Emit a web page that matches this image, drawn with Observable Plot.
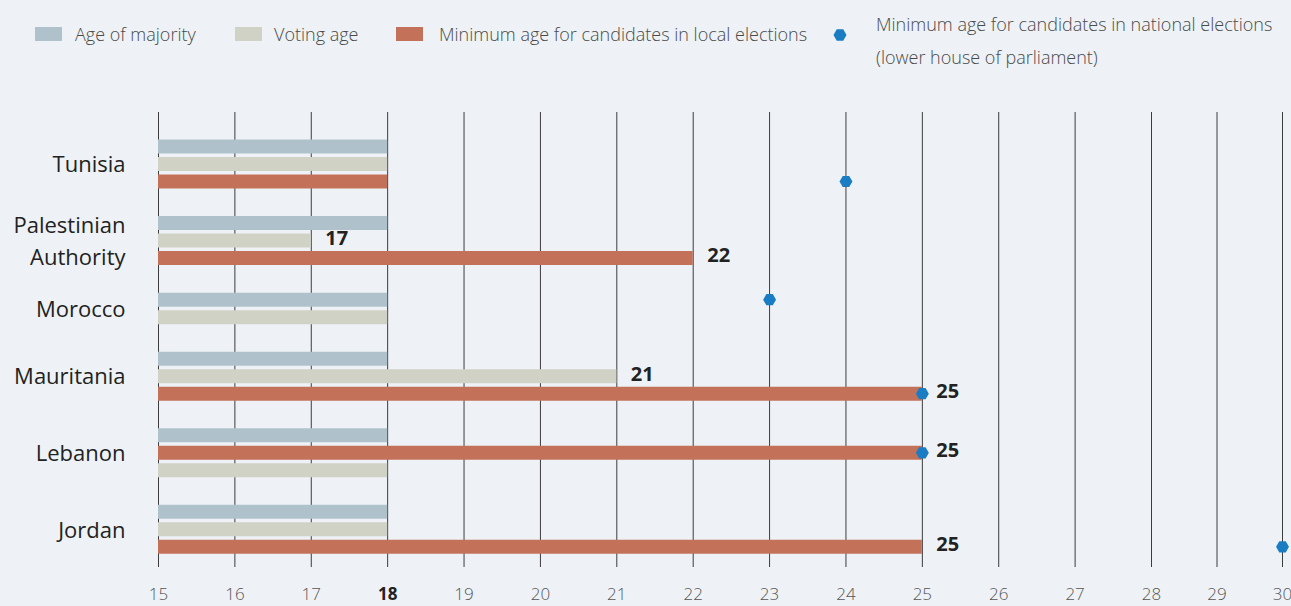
<!DOCTYPE html>
<html>
<head>
<meta charset="utf-8">
<script src="https://cdn.jsdelivr.net/npm/d3@7"></script>
<script src="https://cdn.jsdelivr.net/npm/@observablehq/plot@0.6"></script>
<style>
  html, body { margin: 0; padding: 0; background: #eef2f6; }
  #wrap { position: relative; width: 1291px; height: 606px; font-family: "Open Sans", sans-serif; overflow: hidden; }
  #wrap svg { position: absolute; left: 0; top: 0; }
  .lg { position: absolute; font-size: 18px; color: #4a4a4a; font-weight: 300; white-space: nowrap; line-height: 33px; }
  .sw { position: absolute; width: 27px; height: 14px; }
</style>
</head>
<body>
<div id="wrap"></div>
<script>
// ---------- data ----------
const countries = ["Tunisia", "Palestinian Authority", "Morocco", "Mauritania", "Lebanon", "Jordan"];
const ageOfMajority = [18, 18, 18, 18, 18, 18];
const votingAge = [18, 17, 18, 21, 18, 18];
const localCandidateAge = [18, 22, null, 25, 25, 25];
const nationalCandidateAge = [24, null, 23, 25, 25, 30];
// order of the bars inside each country group
const rowOrder = [
  ["majority", "voting", "local"],
  ["majority", "voting", "local"],
  ["majority", "voting"],
  ["majority", "voting", "local"],
  ["majority", "local", "voting"],
  ["majority", "voting", "local"]
];
const seriesKeys = ["majority", "voting", "local", "national"];
const seriesLabels = [
  "Age of majority",
  "Voting age",
  "Minimum age for candidates in local elections",
  "Minimum age for candidates in national elections\n(lower house of parliament)"
];
const seriesColors = ["#afc2cc", "#d0d2c5", "#c4715a", "#1a7dc4"];
const ticks = [15, 16, 17, 18, 19, 20, 21, 22, 23, 24, 25, 26, 27, 28, 29, 30];
const boldTick = 18;

// ---------- layout (slot units) ----------
const ROW_STEP = 2, GROUP_GAP = 4.75;
let cursor = 0;
const bars = [], dots = [], groups = [];
countries.forEach((name, i) => {
  const vals = {majority: ageOfMajority[i], voting: votingAge[i], local: localCandidateAge[i]};
  const order = rowOrder[i];
  const slots = order.map((k, j) => cursor + j * ROW_STEP);
  order.forEach((k, j) => {
    if (vals[k] != null) bars.push({country: name, series: k, value: vals[k], slot: slots[j]});
  });
  if (nationalCandidateAge[i] != null) {
    const j = order.indexOf("local");
    dots.push({country: name, series: "national", value: nationalCandidateAge[i], slot: slots[j >= 0 ? j : 0]});
  }
  groups.push({name, center: (slots[0] + slots[slots.length - 1]) / 2});
  cursor = slots[slots.length - 1] + GROUP_GAP;
});
const lastSlot = cursor - GROUP_GAP;

// ---------- legend ----------
const wrap = document.getElementById("wrap");
const legendPos = [
  {sw: 35, tx: 75},
  {sw: 235, tx: 274},
  {sw: 396, tx: 439},
  {sw: 833, tx: 876}
];
seriesKeys.forEach((k, i) => {
  const p = legendPos[i];
  if (k === "national") {
    const s = document.createElementNS("http://www.w3.org/2000/svg", "svg");
    s.setAttribute("width", 16); s.setAttribute("height", 16);
    s.style.cssText = `position:absolute;left:${p.sw}px;top:27px;overflow:visible`;
    const path = document.createElementNS("http://www.w3.org/2000/svg", "path");
    const r = 6.5, h = r * Math.sqrt(3) / 2;
    path.setAttribute("d", `M${7 - r},8 L${7 - r / 2},${8 - h} L${7 + r / 2},${8 - h} L${7 + r},8 L${7 + r / 2},${8 + h} L${7 - r / 2},${8 + h}Z`);
    path.setAttribute("fill", seriesColors[i]);
    s.appendChild(path);
    wrap.appendChild(s);
    const t = document.createElement("div");
    t.className = "lg";
    t.style.left = p.tx + "px"; t.style.top = "7.5px";
    t.innerHTML = seriesLabels[i].split("\n").join("<br>");
    wrap.appendChild(t);
  } else {
    const sw = document.createElement("div");
    sw.className = "sw";
    sw.style.left = p.sw + "px"; sw.style.top = "27px"; sw.style.background = seriesColors[i];
    wrap.appendChild(sw);
    const t = document.createElement("div");
    t.className = "lg";
    t.style.left = p.tx + "px"; t.style.top = "17.5px";
    t.textContent = seriesLabels[i];
    wrap.appendChild(t);
  }
});

// ---------- chart ----------
const chart = Plot.plot({
  width: 1291,
  height: 606,
  marginTop: 112,
  marginBottom: 39,
  marginLeft: 0,
  marginRight: 0,
  style: {background: "transparent", fontFamily: "'Open Sans', sans-serif", overflow: "visible"},
  x: {type: "linear", domain: [15, 28, 30], range: [158, 1151, 1282]},
  y: {domain: [-3.886, lastSlot + 2.36], reverse: true, axis: null},
  color: {domain: seriesKeys, range: seriesColors},
  marks: [
    Plot.gridX(ticks, {stroke: "#3c3c3c", strokeOpacity: 1, strokeWidth: 1}),
    Plot.ruleY(bars, {y: "slot", x1: 15, x2: "value", stroke: "series", strokeWidth: 14}),
    Plot.dot(dots, {x: "value", y: "slot", symbol: "hexagon", r: 5.6, fill: "series", rotate: 90}),
    Plot.text(bars.filter(d => d.value !== boldTick), {
      x: "value", y: "slot", text: d => String(d.value), dx: 14, dy: -2,
      textAnchor: "start", fontWeight: "bold", fontSize: 20, fill: "#222"
    }),
    Plot.text(groups, {
      x: 15, y: "center", text: d => d.name.replace(" ", "\n"), dx: -33, dy: -2,
      textAnchor: "end", fontSize: 22, fill: "#222", lineHeight: 1.45
    }),
    Plot.axisX(ticks.filter(t => t !== boldTick), {
      anchor: "bottom", tickSize: 0, tickPadding: 20, label: null,
      fontSize: 17, fill: "#555", fontWeight: 300
    }),
    Plot.axisX([boldTick], {
      anchor: "bottom", tickSize: 0, tickPadding: 20, label: null,
      fontSize: 17, fill: "#222", fontWeight: "bold"
    })
  ]
});
wrap.appendChild(chart);
</script>
</body>
</html>
